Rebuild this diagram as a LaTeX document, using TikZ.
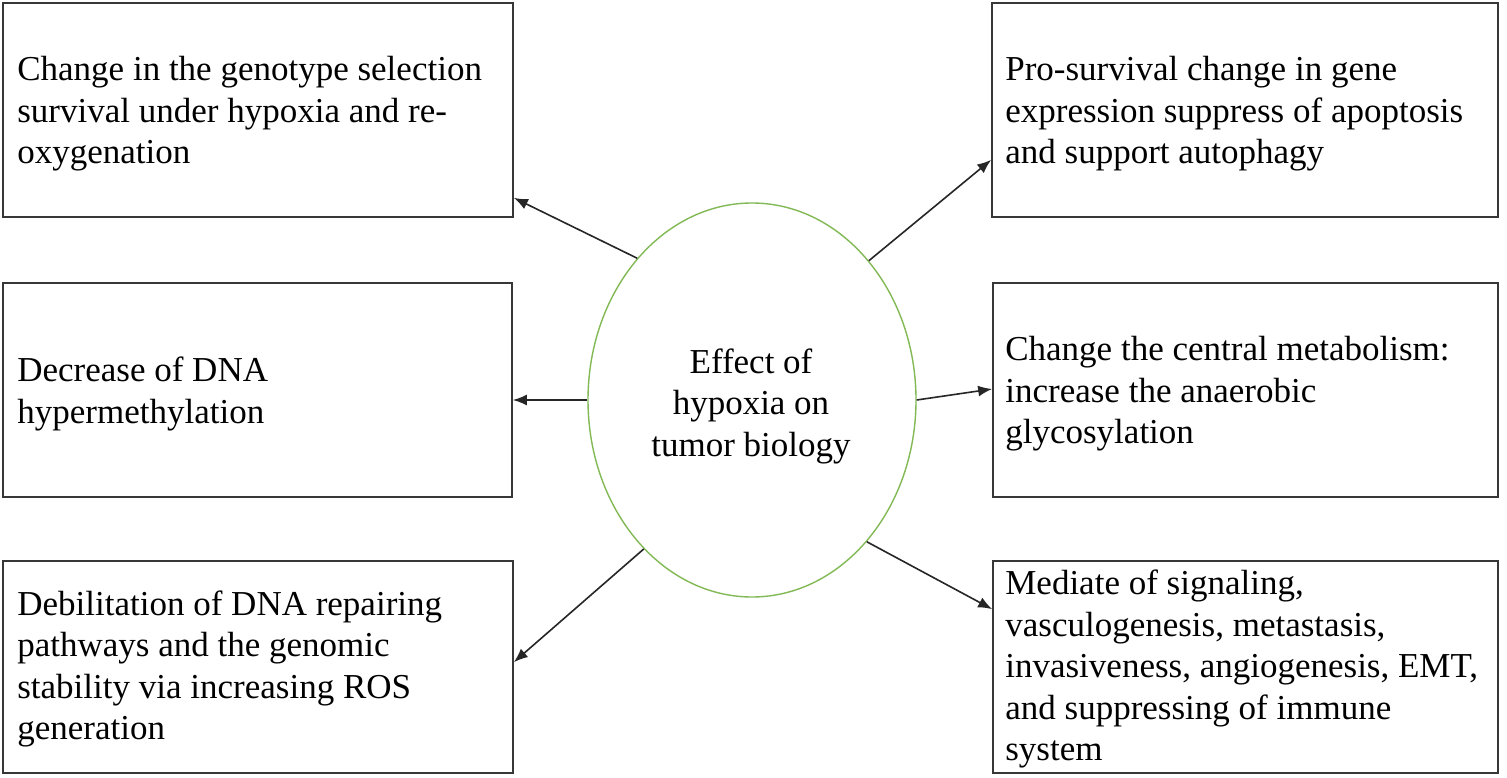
\documentclass[tikz,border=0pt]{standalone}
\usepackage{fontspec}
\setmainfont{Liberation Serif}
\usetikzlibrary{arrows.meta,calc,shapes.geometric}
\definecolor{boxline}{RGB}{55,55,55}
\definecolor{ellgreen}{RGB}{130,185,85}
\tikzset{
  box/.style={draw=boxline, line width=1.7pt, rectangle, inner sep=0pt},
  txt/.style={anchor=west, align=left, inner sep=0pt, font=\fontsize{35}{41.5}\selectfont},
  conn/.style={draw=black!85, line width=1.6pt, -{Latex[length=14pt,width=11pt]}},
}
\begin{document}
\begin{tikzpicture}[x=1pt,y=-1pt]
\useasboundingbox (0,0) rectangle (1507,778);
\fill[white] (0,0) rectangle (1507,778);
% boxes
\node[box, minimum width=510pt, minimum height=214pt] (b1) at (258,110) {};
\node[box, minimum width=509pt, minimum height=214pt] (b2) at (257.5,390) {};
\node[box, minimum width=510pt, minimum height=212pt] (b3) at (258,667) {};
\node[box, minimum width=506pt, minimum height=214pt] (b4) at (1245,110) {};
\node[box, minimum width=505pt, minimum height=214pt] (b5) at (1245.5,390) {};
\node[box, minimum width=505pt, minimum height=212pt] (b6) at (1245.5,667) {};
% texts
\node[txt] (t1) at ([xshift=15pt,yshift=-4pt]b1.west) {Change in the genotype selection\\survival under hypoxia and re-\\oxygenation};
\node[txt] (t2) at ([xshift=15pt,yshift=-4pt]b2.west) {Decrease of DNA\\hypermethylation};
\node[txt] (t3) at ([xshift=15pt,yshift=-2pt]b3.west) {Debilitation of DNA repairing\\pathways and the genomic\\stability via increasing ROS\\generation};
\node[txt] (t4) at ([xshift=14pt,yshift=-4pt]b4.west) {Pro-survival change in gene\\expression suppress of apoptosis\\and support autophagy};
\node[txt] (t5) at ([xshift=13pt,yshift=-4pt]b5.west) {Change the central metabolism:\\increase the anaerobic\\glycosylation};
\node[txt] (t6) at ([xshift=13pt,yshift=-2pt]b6.west) {Mediate of signaling,\\vasculogenesis, metastasis,\\invasiveness, angiogenesis, EMT,\\and suppressing of immune\\system};
% center ellipse
\node[ellipse, draw=ellgreen, line width=1.4pt, minimum width=328pt, minimum height=394pt, inner sep=0pt] (c) at (752,400) {};
\node[align=center, inner sep=0pt, font=\fontsize{35}{41.5}\selectfont] (ct) at (751,406) {Effect of\\hypoxia on\\tumor biology};
% connectors
\draw[conn] (c.129.4) -- ($(b1.south east)+(0,-20)$);
\draw[conn] (c.180) -- (b2.east |- c.180);
\draw[conn] (c.234.2) -- ($(b3.north east)+(0,102)$);
\draw[conn] (c.50.4) -- ($(b4.south west)+(0,-58)$);
\draw[conn] (c.0) -- ($(b5.west)+(0,-1)$);
\draw[conn] (c.309.2) -- ($(b6.north west)+(0,49)$);
\end{tikzpicture}
\end{document}
